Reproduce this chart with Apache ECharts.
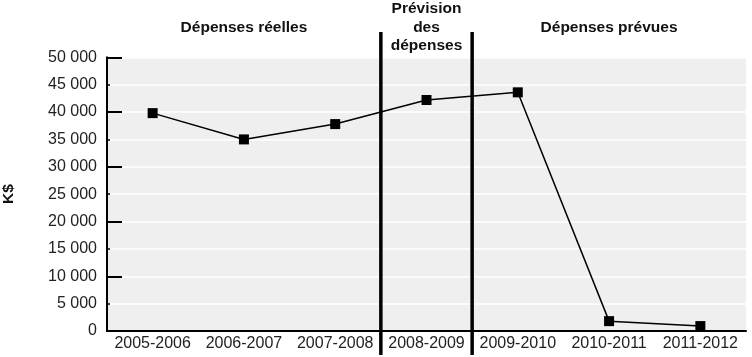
<!DOCTYPE html>
<html><head><meta charset="utf-8">
<script src="https://cdn.jsdelivr.net/npm/echarts@6/dist/echarts.min.js"></script>
<style>html,body{margin:0;padding:0;background:#fff}#c{width:752px;height:357px}</style>
</head><body><div id="c"></div>
<script>
const categories = ['2005-2006','2006-2007','2007-2008','2008-2009','2009-2010','2010-2011','2011-2012'];
const spending = [39800, 35000, 37800, 42200, 43600, 1800, 900];
const periodLabels = ['', 'Dépenses réelles', '', 'Prévision\ndes\ndépenses', '', 'Dépenses prévues', ''];
const dividerAfter = [2, 3];
const yMin = 0, yMax = 50000, yStep = 5000, yMajorStep = 10000;

const FONT = '"Liberation Sans", Arial, Helvetica, sans-serif';
function fmt(v){
  if (v >= 1000) return Math.floor(v/1000) + ' ' + String(v % 1000).padStart(3, '0');
  return String(v);
}
const chart = echarts.init(document.getElementById('c'));
const option = {
  animation: false,
  textStyle: {fontFamily: FONT},
  grid: {left: 107, right: 6, top: 57.3, bottom: 26, show: true, backgroundColor: '#eeefee', borderWidth: 0,
    containLabel: false, outerBoundsMode: 'none'},
  xAxis: [{
    type: 'category', data: categories, position: 'bottom',
    axisLine: {lineStyle: {color: '#000', width: 2}},
    axisTick: {inside: true, length: 7, lineStyle: {color: '#000', width: 1.5}},
    axisLabel: {interval: 0, fontSize: 16, color: '#222', margin: 5, fontFamily: FONT, hideOverlap: false},
    splitLine: {show: false}
  }, {
    type: 'category', data: periodLabels, position: 'top',
    axisLine: {show: false}, axisTick: {show: false}, splitLine: {show: false},
    axisLabel: {interval: 0, fontSize: 15.5, fontWeight: 'bold', color: '#111', lineHeight: 18.5,
      verticalAlign: 'middle', margin: 30, fontFamily: FONT}
  }],
  yAxis: [{
    type: 'value', min: yMin, max: yMax, interval: yStep,
    name: 'K$', nameLocation: 'middle', nameGap: 90, nameRotate: 90,
    nameTextStyle: {fontSize: 15.5, fontWeight: 'bold', color: '#111', fontFamily: FONT},
    axisLine: {show: true, lineStyle: {color: '#000', width: 2}},
    axisTick: {show: true, inside: true, length: 3, lineStyle: {color: '#000', width: 1.5}},
    axisLabel: {fontSize: 16, color: '#222', margin: 10, formatter: fmt, fontFamily: FONT},
    splitLine: {show: true, lineStyle: {color: '#ffffff', width: 1.5}}
  }, {
    type: 'value', min: yMin, max: yMax, interval: yMajorStep, position: 'left',
    axisLine: {show: false},
    axisTick: {show: true, inside: true, length: 15, lineStyle: {color: '#000', width: 2}},
    axisLabel: {show: false}, splitLine: {show: false}
  }],
  series: [{
    type: 'line', data: spending, xAxisIndex: 0, yAxisIndex: 0,
    symbol: 'rect', symbolSize: 10, itemStyle: {color: '#000'},
    lineStyle: {color: '#000', width: 1.5}, z: 5
  }]
};
chart.setOption(option);
const xs = dividerAfter.map(i => (chart.convertToPixel({xAxisIndex: 0}, i) + chart.convertToPixel({xAxisIndex: 0}, i + 1)) / 2);
chart.setOption({graphic: xs.map(x => ({type: 'line', shape: {x1: x, y1: 32, x2: x, y2: 355}, style: {stroke: '#000', lineWidth: 3.5}, z: 100}))});
</script></body></html>
